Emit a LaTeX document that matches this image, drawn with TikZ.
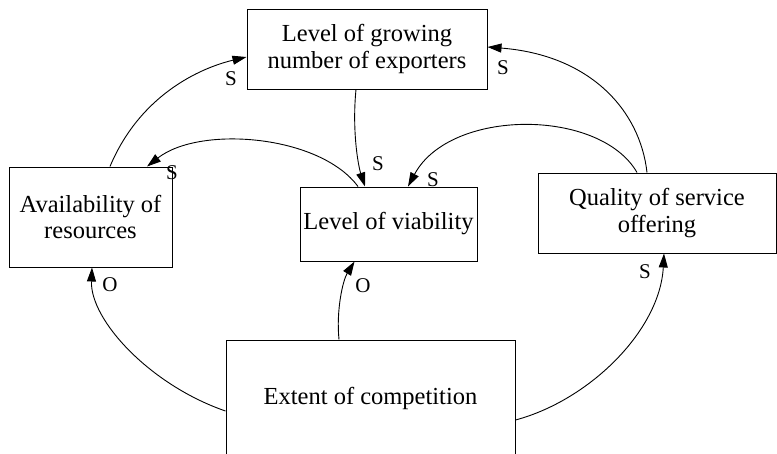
\documentclass[tikz,border=0pt]{standalone}
\usepackage{fontspec}
\setmainfont{Liberation Serif}
\usetikzlibrary{arrows.meta}
\begin{document}
\begin{tikzpicture}[x=1pt,y=-1pt,
  factor/.style={draw, line width=1pt, inner sep=0pt, align=center,
    font=\fontsize{24.5}{26.5}\selectfont},
  link/.style={line width=0.9pt, -{Triangle[length=14pt,width=9pt]}},
  sign/.style={inner sep=0pt, font=\fontsize{21}{21}\selectfont}]
\useasboundingbox (0,0) rectangle (777,453);

% factors
\node[factor, minimum width=240pt, minimum height=80pt] (exp) at (367,49)
  {Level of growing\\number of exporters};
\node[factor, minimum width=163pt, minimum height=100pt] (avail) at (90.5,217)
  {Availability of\\resources};
\node[factor, minimum width=177pt, minimum height=74pt] (viab) at (388.5,224)
  {Level of viability};
\node[factor, minimum width=238pt, minimum height=80pt] (qual) at (657,213)
  {Quality of service\\offering};
\node[factor, minimum width=289pt, minimum height=116pt] (comp) at (370.5,398)
  {Extent of competition};

% causal links
\draw[link] ([xshift=19.5pt]avail.north) .. controls (140,95) and (200,68) .. ([yshift=-8pt]exp.west);
\draw[link] ([xshift=-11pt]exp.south) .. controls (352,130) and (358,165) .. ([xshift=-23.5pt]viab.north);
\draw[link] ([xshift=-30.5pt]viab.north) .. controls (320,135) and (200,125) .. ([xshift=56.5pt]avail.north);
\draw[link] ([xshift=-10pt]qual.north) .. controls (640,110) and (590,55) .. ([yshift=2pt]exp.east);
\draw[link] ([xshift=-20pt]qual.north) .. controls (600,108) and (450,108) .. ([xshift=19.5pt]viab.north);
\draw[link] ([yshift=-13pt]comp.west) .. controls (150,385) and (90,320) .. ([xshift=1.5pt]avail.south);
\draw[link] ([xshift=-31.5pt]comp.north) .. controls (336,310) and (343,280) .. ([xshift=-34pt]viab.south);
\draw[link] ([yshift=-22pt]comp.east) .. controls (590,400) and (660,330) .. ([xshift=7pt]qual.south);

% link signs
\node[sign] (s1) at (231,79) {S};
\node[sign] (s2) at (378,164) {S};
\node[sign] (s3) at (172,173) {S};
\node[sign] (s4) at (503,68) {S};
\node[sign] (s5) at (433,180) {S};
\node[sign] (o1) at (110,285) {O};
\node[sign] (o2) at (363,286) {O};
\node[sign] (s6) at (645,272) {S};
\end{tikzpicture}
\end{document}
